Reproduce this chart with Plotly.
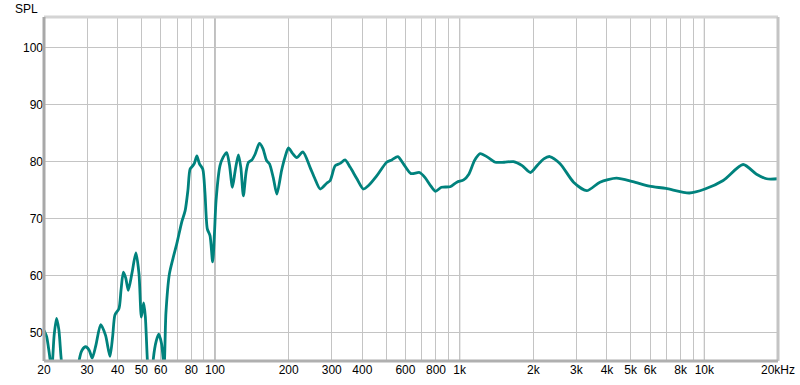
import plotly.graph_objects as go

freq = [20, 20.5, 21.0, 21.5, 22.0, 22.5, 23.0, 23.5, 24.2, 27.3, 27.9, 28.6, 29.6, 30.6, 31.5,
        32.6, 34.1, 35.7, 37.2, 38.2, 39.0, 40.5, 41.3, 42.2, 43.2, 44.2, 45.8, 47.5, 48.9, 50.0,
        51.1, 51.9, 52.9, 53.8, 55.2, 56.0, 57.5, 58.9, 60.5, 61.9, 63.0, 65.1, 67.5, 69.8, 73.1,
        75.5, 77.5, 79.1, 81.2, 82.5, 84.3, 86.4, 89.1, 91.0, 93.0, 95.4, 97.8, 99.5, 101, 104.8,
        108, 111.6, 114.5, 117.8, 121, 124.6, 127.5, 130.6, 134, 137, 141.4, 145.8, 151.8, 157,
        162.4, 167, 173, 179, 187, 193, 199.5, 207, 215.8, 228.6, 244.6, 256, 269, 286, 295.6,
        310, 325, 340, 357, 380, 404, 424, 458, 503, 528, 559, 589, 632, 685, 722, 760, 796, 842,
        914, 974, 1038, 1090, 1150, 1212, 1300, 1398, 1520, 1660, 1800, 1946, 2070, 2207, 2334,
        2578, 2920, 3306, 3744, 4372, 5100, 5960, 6960, 8680, 10060, 11940, 14400, 16340, 17960,
        20000]

spl = [50.4, 49.3, 46.5, 43.5, 49.5, 52.5, 50.5, 45.5, 41, 41, 45.3, 46.9, 47.5, 46.9, 45.5,
       47.8, 51.4, 49.5, 45.8, 49.5, 53.1, 54.2, 57.5, 60.6, 59.5, 57.4, 60.5, 64.0, 60.3, 52.7,
       55.2, 52.8, 45.2, 41, 41, 45.5, 48.5, 49.7, 48, 44, 53.4, 60.3, 63.2, 65.6, 69.4,
       71.4, 75, 78.7, 79.3, 79.8, 81.0, 79.6, 78.7, 74.5, 68.2, 67.0, 62.4, 67.5, 73.2, 79.3,
       80.8, 81.6, 79.5, 75.5, 78.5, 81.2, 79, 74.0, 78.2, 79.9, 80.3, 81.3, 83.2, 82.3,
       80.2, 79.6, 77.2, 74.3, 78.4, 80.7, 82.4, 81.5, 80.7, 81.7, 79.0, 77.0, 75.2, 76.2, 76.7,
       79.3, 79.7, 80.3, 79.0, 77.0, 75.2, 75.8, 77.5, 79.9, 80.3, 80.9, 79.6, 77.9, 78.1, 77.2, 75.8, 74.8, 75.5,
       75.6, 76.4, 76.8, 77.8, 80.2, 81.4, 80.8, 79.9, 79.9, 80.0, 79.3, 78.1, 79.3, 80.5, 80.9,
       79.6, 76.4, 74.9, 76.4, 77.1, 76.5, 75.7, 75.3, 74.5, 75.2, 76.7, 79.5, 77.8, 77.0,
       77.0]

grid_freqs = [20, 30, 40, 50, 60, 70, 80, 90, 100, 200, 300, 400, 500, 600, 700, 800, 900,
              1000, 2000, 3000, 4000, 5000, 6000, 7000, 8000, 9000, 10000, 20000]
grid_labels = ["20", "30", "40", "50", "60", "", "80", "", "100", "200", "300", "400", "", "600", "",
               "800", "", "1k", "2k", "3k", "4k", "5k", "6k", "", "8k", "", "10k", "20kHz"]
decades = [100, 1000, 10000]
y_ticks = [50, 60, 70, 80, 90, 100]

fig = go.Figure()
fig.add_trace(go.Scatter(x=freq, y=spl, mode="lines",
                         line=dict(color="#00827d", width=2.8, shape="spline", smoothing=0.7),
                         hoverinfo="skip", showlegend=False))

for d in decades:
    fig.add_shape(type="line", xref="x", yref="paper", x0=d, x1=d, y0=0, y1=1,
                  line=dict(color="#808080", width=1), layer="between")

# frame
fig.add_shape(type="line", xref="paper", yref="paper", x0=0, x1=1, y0=1, y1=1,
              line=dict(color="#d4d4d4", width=3), layer="above")
fig.add_shape(type="line", xref="paper", yref="paper", x0=1, x1=1, y0=0, y1=1,
              line=dict(color="#c4c4c4", width=3), layer="above")
fig.add_shape(type="line", xref="paper", yref="paper", x0=0, x1=1, y0=0, y1=0,
              line=dict(color="#b0b0b0", width=3), layer="above")
fig.add_shape(type="line", xref="paper", yref="paper", x0=0, x1=0, y0=0, y1=1,
              line=dict(color="#a8a8a8", width=3), layer="above")

fig.add_annotation(text="SPL", xref="paper", yref="paper", x=0, y=1, xanchor="right",
                   yanchor="bottom", xshift=-4, yshift=-1, showarrow=False,
                   font=dict(family="Liberation Sans", size=12, color="#000"))

fig.update_layout(
    width=800, height=385,
    margin=dict(l=44, r=22, t=17, b=24, autoexpand=False),
    paper_bgcolor="white", plot_bgcolor="white",
    font=dict(family="Liberation Sans", size=12, color="#000"),
    xaxis=dict(type="log", range=[1.30103, 4.30103], tickvals=grid_freqs, ticktext=grid_labels,
               showgrid=True, gridcolor="#c4c4c4", gridwidth=1, zeroline=False, automargin=False,
               showline=False, ticks="", tickangle=0, fixedrange=True),
    yaxis=dict(range=[45.0, 105.4], tickvals=y_ticks, showgrid=True, gridcolor="#c4c4c4",
               gridwidth=1, zeroline=False, showline=False, ticks="", automargin=False,
               fixedrange=True),
)

fig.write_html("out.html", config={"displayModeBar": False},
               post_script="document.body.style.margin='0';document.body.style.overflow='hidden';")
